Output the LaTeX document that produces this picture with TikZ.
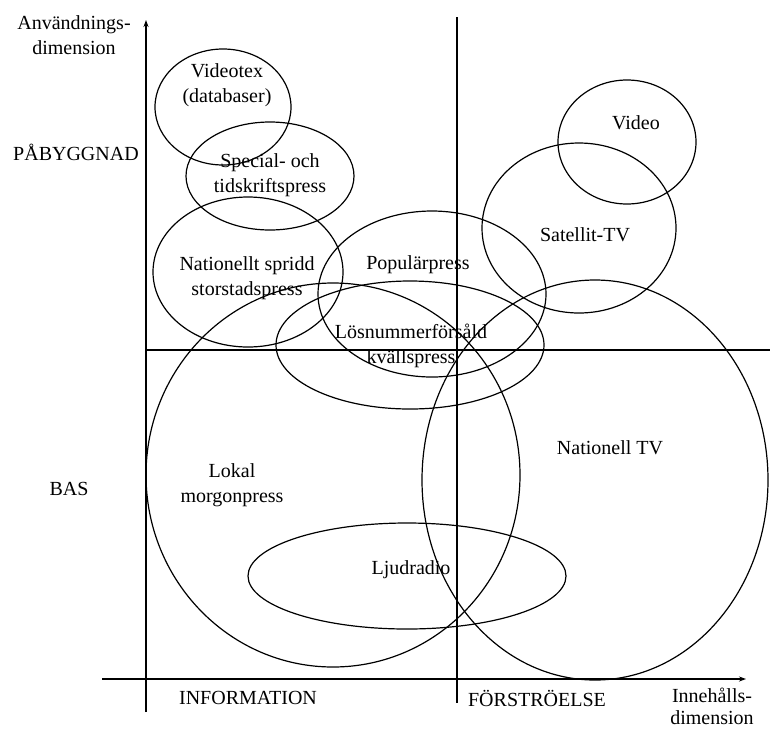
\documentclass[tikz,border=0pt]{standalone}
\usepackage{fontspec}
\setmainfont{Liberation Serif}
\usetikzlibrary{arrows.meta}
\begin{document}
\begin{tikzpicture}[x=1pt,y=-1pt,
  lbl/.style={font=\fontsize{20}{25}\selectfont, align=center, inner sep=0pt},
  ring/.style={draw=black, line width=1.2pt},
  axisline/.style={draw=black, line width=1.4pt},
  tip/.style={-{Stealth[length=7pt,width=5pt]}}]
\useasboundingbox (0,0) rectangle (770,729);
% axes end points
\coordinate (vb) at (146,712);
\coordinate (vt) at (146,20);
\coordinate (hl) at (102,679);
\coordinate (hr) at (746,679);
\coordinate (mvt) at (457,17);
\coordinate (mvb) at (457,703);
\coordinate (mhl) at (146,350);
\coordinate (mhr) at (770,350);
\draw[axisline,tip] (vb) -- (vt);
\draw[axisline,tip] (hl) -- (hr);
\draw[axisline] (mvt) -- (mvb);
\draw[axisline] (mhl) -- (mhr);
% ellipses
\draw[ring] (223,107) ellipse [x radius=68, y radius=58];   % Videotex
\draw[ring] (270,176) ellipse [x radius=84, y radius=54];   % Special
\draw[ring] (248,272) ellipse [x radius=95, y radius=75];   % Nationellt spridd
\draw[ring] (432,294) ellipse [x radius=114, y radius=83];  % Popularpress
\draw[ring] (410,345) ellipse [x radius=134, y radius=64];  % Losnummer
\draw[ring] (333,475) ellipse [x radius=187, y radius=192]; % Lokal
\draw[ring] (595,480) ellipse [x radius=173, y radius=200]; % Nationell TV
\draw[ring] (579,228) ellipse [x radius=97, y radius=85];   % Satellit
\draw[ring] (627,142) ellipse [x radius=69, y radius=62];   % Video
\draw[ring] (407,576) ellipse [x radius=159, y radius=53];  % Ljudradio
% labels
\node[lbl] (ylab) at (74,35) {Användnings-\\dimension};
\node[lbl] (pab) at (76,152) {PÅBYGGNAD};
\node[lbl] (bas) at (69,489) {BAS};
\node[lbl] (info) at (248,698) {INFORMATION};
\node[lbl] (forst) at (537,698) {FÖRSTRÖELSE};
\node[lbl, font=\fontsize{20}{22}\selectfont] (xlab) at (712,706) {Innehålls-\\dimension};
\node[lbl] (videotex) at (227,85) {Videotex\\(databaser)};
\node[lbl] (special) at (270,175) {Special- och\\tidskriftspress};
\node[lbl] (national) at (247,278) {Nationellt spridd\\storstadspress};
\node[lbl] (popular) at (418,265) {Populärpress};
\node[lbl] (losnr) at (411,346) {Lösnummerförsåld\\kvällspress};
\node[lbl] (satellit) at (585,235) {Satellit-TV};
\node[lbl] (video) at (636,123) {Video};
\node[lbl] (lokal) at (232,485) {Lokal\\morgonpress};
\node[lbl] (ljud) at (411,570) {Ljudradio};
\node[lbl] (ntv) at (610,448) {Nationell TV};
\end{tikzpicture}
\end{document}
